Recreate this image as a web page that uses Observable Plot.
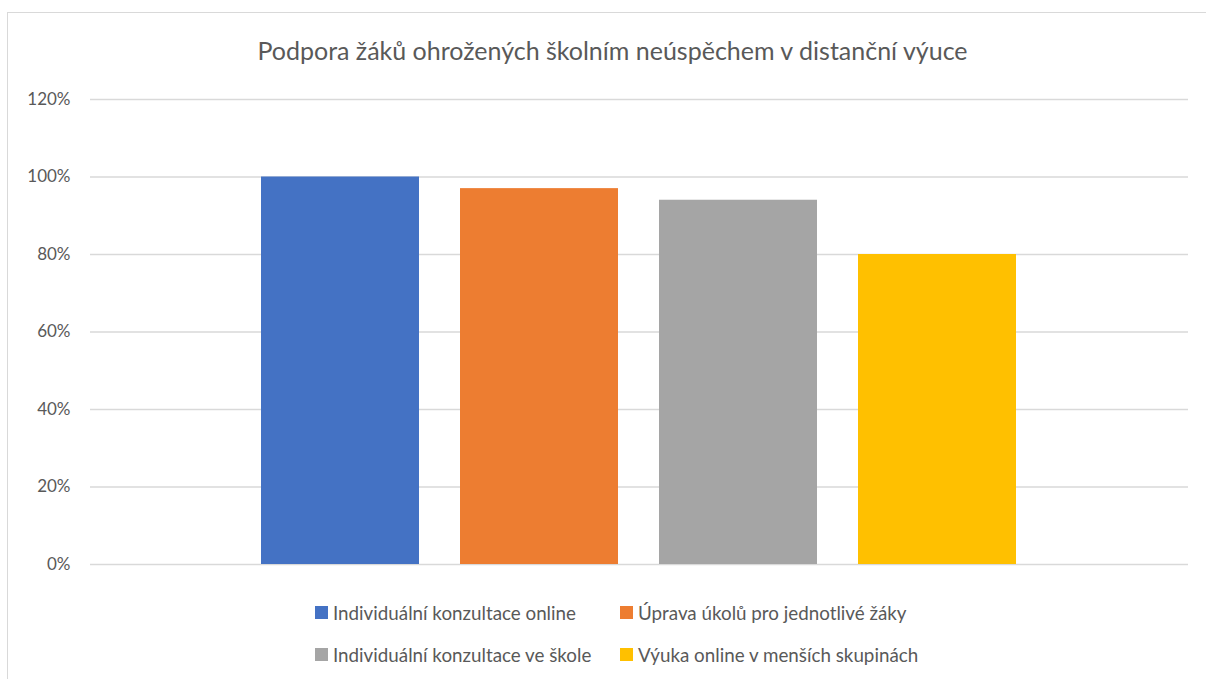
<!DOCTYPE html>
<html>
<head>
<meta charset="utf-8">
<script src="https://cdn.jsdelivr.net/npm/d3@7"></script>
<script src="https://cdn.jsdelivr.net/npm/@observablehq/plot@0.6"></script>
<style>
  html, body { margin: 0; padding: 0; background: #fff; overflow: hidden; width: 1206px; height: 679px; }
  body { position: relative; font-family: Lato, "Open Sans", sans-serif; color: #595959; }
  #frame { position: absolute; left: 7px; top: 12px; width: 1230px; height: 720px; border: 1.5px solid #d9d9d9; box-sizing: border-box; z-index: 2; pointer-events: none; }
  #title { position: absolute; left: 0; top: 34px; width: 1225px; text-align: center; font-size: 25px; line-height: 32px; color: #595959; }
  #chart { position: absolute; left: 0; top: 80px; }
  #legend { position: absolute; left: 315px; top: 600px; display: grid; grid-template-columns: 305px 320px; row-gap: 17px; font-size: 18.8px; line-height: 25px; }
  .item { display: flex; align-items: center; white-space: nowrap; }
  .sw { width: 13px; height: 13px; margin-right: 5px; flex: none; }
</style>
</head>
<body>
<div id="frame"></div>
<div id="title">Podpora žáků ohrožených školním neúspěchem v distanční výuce</div>
<div id="chart"></div>
<div id="legend"></div>
<script>
const categories = [
  "Individuální konzultace online",
  "Úprava úkolů pro jednotlivé žáky",
  "Individuální konzultace ve škole",
  "Výuka online v menších skupinách"
];
const values = [1.00, 0.97, 0.94, 0.80];
const yTicks = [0, 0.2, 0.4, 0.6, 0.8, 1.0, 1.2];
const colors = ["#4472C4", "#ED7D31", "#A5A5A5", "#FFC000"];

const data = categories.map((c, i) => ({category: c, value: values[i]}));

const chart = Plot.plot({
  width: 1206,
  height: 500,
  marginLeft: 90,
  marginRight: 18,
  marginTop: 19,
  marginBottom: 16,
  style: {fontFamily: "Lato, 'Open Sans', sans-serif", fontSize: "17px", color: "#595959", background: "transparent"},
  x: {type: "band", domain: categories, paddingInner: 0.206, paddingOuter: 0.855, axis: null},
  y: {domain: [0, 1.2], ticks: yTicks, tickFormat: d3.format(".0%"), label: null},
  color: {domain: categories, range: colors},
  marks: [
    Plot.gridY(yTicks, {stroke: "#d9d9d9", strokeOpacity: 1, strokeWidth: 1.3}),
    Plot.barY(data, {x: "category", y: "value", fill: "category"}),
    Plot.axisY(yTicks, {tickSize: 0, tickPadding: 20, tickFormat: d3.format(".0%"), fill: "#595959", fontSize: 17, label: null})
  ]
});
document.getElementById("chart").appendChild(chart);

const legend = document.getElementById("legend");
categories.forEach((c, i) => {
  const item = document.createElement("div");
  item.className = "item";
  const sw = document.createElement("span");
  sw.className = "sw";
  sw.style.background = colors[i];
  const t = document.createElement("span");
  t.textContent = c;
  item.appendChild(sw);
  item.appendChild(t);
  legend.appendChild(item);
});
</script>
</body>
</html>
